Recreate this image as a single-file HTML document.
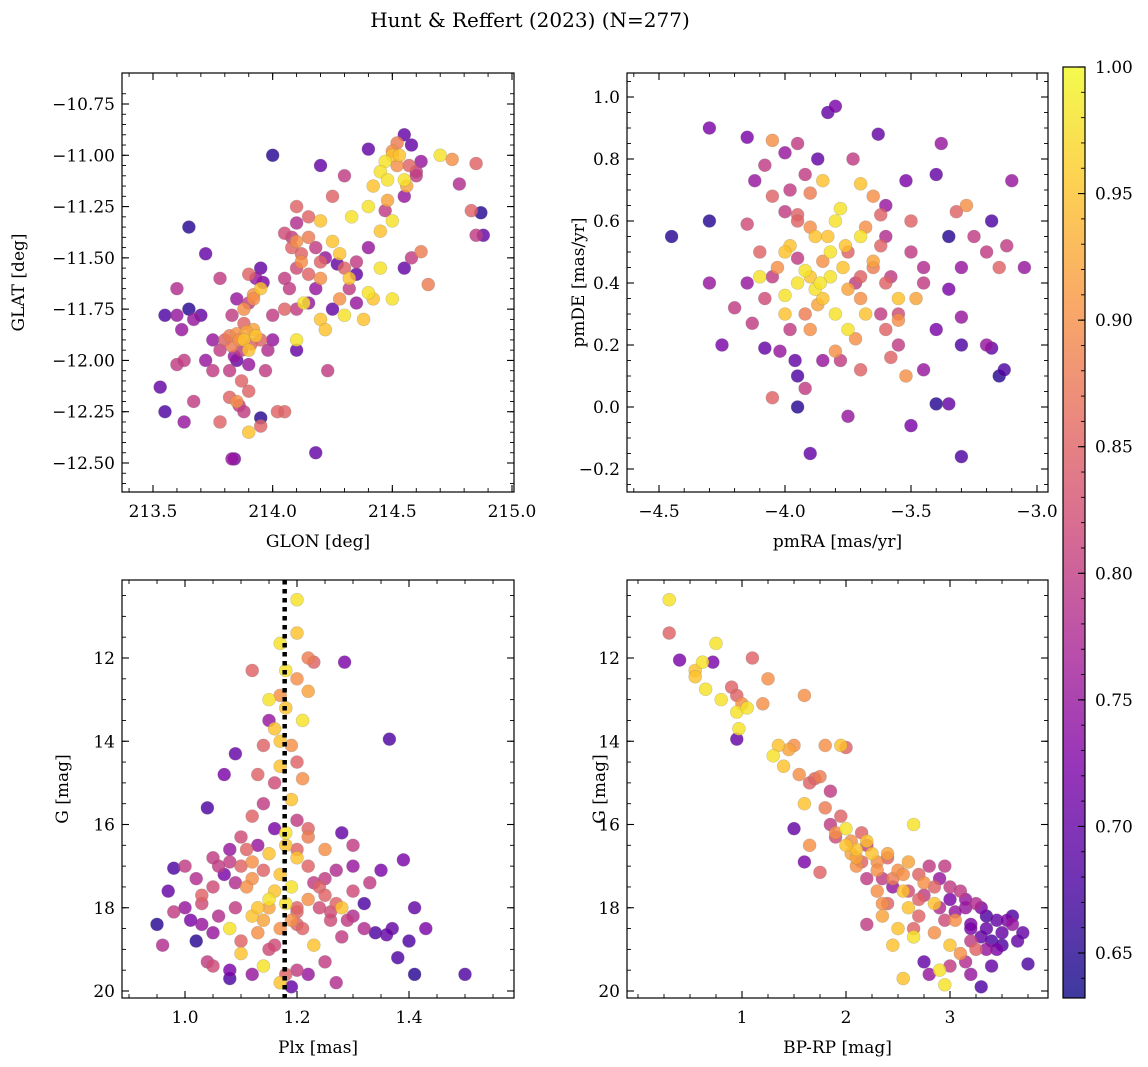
<!DOCTYPE html>
<html><head><meta charset="utf-8">
<style>
html,body{margin:0;padding:0;background:#fff;}
svg{display:block;font-family:"DejaVu Serif","Liberation Serif",serif;}
</style></head>
<body>
<svg id="fig" width="1148" height="1067" viewBox="0 0 1148 1067">
<defs>
<linearGradient id="plasma" x1="0" y1="1" x2="0" y2="0">
<stop offset="0" stop-color="#0d0887"/><stop offset="0.125" stop-color="#4c02a1"/>
<stop offset="0.25" stop-color="#7e03a8"/><stop offset="0.375" stop-color="#a92395"/>
<stop offset="0.5" stop-color="#cc4778"/><stop offset="0.625" stop-color="#e56b5d"/>
<stop offset="0.75" stop-color="#f89540"/><stop offset="0.875" stop-color="#fdc527"/>
<stop offset="1" stop-color="#f0f921"/>
</linearGradient>
</defs>
<text x="530" y="27" font-size="20" text-anchor="middle">Hunt &amp; Reffert (2023) (N=277)</text>
</svg>
<script>
// ---------- Panel 1: GLON / GLAT ----------
const glon=[214.55,214.58,214.5,214.47,214.52,214.6,214.62,214.7,214.75,214.85,214.4,214.45,214.55,214.3,214.25,214.2,214.78,214.83,214.87,214.85,214.88,214.55,214.48,214.4,214.33,214.5,214.45,214.4,214.42,214.47,
214.1,214.15,214.2,214.08,214.1,214.12,214.18,214.25,214.22,214.27,214.3,214.35,214.32,214.2,214.15,214.1,214.05,214.28,214.25,214.3,214.35,214.4,214.42,214.45,214.5,214.55,214.58,214.62,214.65,214.38,214.2,214.22,214.1,214.15,214.05,214.0,214.1,214.23,214.18,214.05,214.0,214.13,214.1,
213.95,213.93,213.9,213.95,213.92,213.9,213.85,213.83,213.88,213.92,213.85,213.8,213.83,213.88,213.9,213.95,213.98,213.85,213.9,213.82,213.87,213.85,213.82,213.88,213.9,213.83,213.84,213.95,213.95,214.02,213.78,213.72,213.75,213.7,213.65,213.67,213.72,213.65,213.6,213.55,213.6,213.62,213.6,213.63,213.67,213.63,213.55,213.53,213.78,213.75,213.78,213.97,214.0,
213.82,213.86,213.89,213.91,213.87,213.84,213.93,213.88,213.9,213.86,214.05,214.08,214.12,214.07,214.15,214.1,214.5,214.53,214.57,214.6,214.48,214.52,214.56,214.35,214.28,214.32,214.2,214.18,213.96,213.92];
const glat=[-10.9,-10.95,-11.0,-11.03,-11.05,-11.1,-11.03,-11.0,-11.02,-11.04,-10.97,-11.08,-11.12,-11.1,-11.2,-11.05,-11.14,-11.27,-11.28,-11.39,-11.39,-11.2,-11.22,-11.25,-11.3,-11.32,-11.37,-11.45,-11.15,-11.27,
-11.25,-11.3,-11.32,-11.4,-11.42,-11.48,-11.45,-11.42,-11.5,-11.53,-11.55,-11.52,-11.6,-11.6,-11.58,-11.55,-11.6,-11.7,-11.75,-11.78,-11.72,-11.67,-11.7,-11.55,-11.7,-11.55,-11.5,-11.47,-11.63,-11.8,-11.8,-11.85,-11.75,-11.72,-11.75,-11.78,-11.95,-12.05,-12.45,-12.25,-11.0,-11.72,-11.9,
-11.55,-11.6,-11.58,-11.65,-11.68,-11.72,-11.7,-11.78,-11.82,-11.85,-11.87,-11.9,-11.93,-11.9,-11.95,-11.9,-11.95,-12.0,-12.02,-12.05,-12.1,-12.2,-12.18,-12.25,-12.35,-12.48,-12.48,-12.28,-12.32,-12.25,-12.3,-12.0,-12.05,-11.78,-11.75,-11.8,-11.48,-11.35,-11.65,-11.78,-11.78,-11.85,-12.02,-12.0,-12.2,-12.3,-12.25,-12.13,-11.6,-11.9,-11.95,-12.05,-11.9,
-11.88,-11.9,-11.86,-11.92,-11.95,-11.98,-11.88,-11.75,-12.15,-12.22,-11.38,-11.45,-11.52,-11.65,-11.4,-11.33,-10.98,-11.0,-11.05,-11.08,-11.12,-10.94,-11.15,-11.58,-11.48,-11.65,-11.52,-11.65,-11.62,-11.7];
const prob1=[0.7,0.7,0.95,0.98,0.9,0.8,0.75,0.98,0.9,0.85,0.7,0.98,0.98,0.8,0.85,0.7,0.78,0.85,0.65,0.8,0.7,0.75,0.92,0.98,0.98,0.98,0.95,0.75,0.95,0.8,
0.85,0.85,0.95,0.8,0.9,0.85,0.8,0.95,0.75,0.7,0.85,0.8,0.95,0.9,0.85,0.82,0.8,0.9,0.7,0.98,0.75,0.98,0.95,0.98,0.98,0.7,0.8,0.88,0.88,0.95,0.95,0.95,0.8,0.75,0.85,0.8,0.7,0.8,0.7,0.85,0.65,0.98,0.98,
0.7,0.75,0.85,0.95,0.9,0.8,0.75,0.8,0.85,0.92,0.9,0.85,0.88,0.95,0.95,0.85,0.78,0.7,0.75,0.8,0.85,0.9,0.85,0.8,0.95,0.75,0.72,0.65,0.85,0.85,0.85,0.75,0.8,0.7,0.65,0.75,0.7,0.65,0.78,0.68,0.75,0.75,0.8,0.8,0.8,0.75,0.68,0.7,0.8,0.75,0.8,0.8,0.75,
0.88,0.9,0.92,0.85,0.8,0.75,0.95,0.9,0.85,0.8,0.82,0.85,0.9,0.8,0.88,0.78,0.9,0.95,0.85,0.8,0.98,0.88,0.92,0.7,0.95,0.8,0.85,0.75,0.72,0.9];

// ---------- Panel 2: pmRA / pmDE ----------
const pmra=[-4.45,-4.3,-4.3,-4.3,-4.25,-4.2,-4.15,-4.12,-4.15,-4.13,-4.1,-4.08,-4.05,-4.03,-4.0,-4.0,-3.98,-3.95,-3.95,-3.92,-3.9,-3.88,-3.87,-3.85,-3.83,-3.8,-3.78,-3.77,-3.75,-3.72,-3.7,-3.68,-3.65,-3.62,-3.6,-3.58,-3.55,-3.5,-3.45,-3.4,-3.38,-3.35,-3.32,-3.3,-3.28,-3.25,-3.2,-3.18,-3.15,-3.12,-3.1,-3.05,-3.2,-3.18,-3.13,-3.15,-3.3,-3.3,-3.35,-3.35,-3.4,-3.3,-3.45,-3.5,-3.52,-3.55,-3.6,-3.63,-3.65,-3.7,-3.75,-3.8,-3.85,-3.9,-3.92,-3.95,-3.95,-3.96,-3.98,-4.02,-4.05,-4.0,-3.95,-3.92,-3.87,-3.83,-3.8,-3.73,-3.7,-3.85,-3.9,-4.05,-4.05,-4.08,-3.6,-3.52,-3.48,-3.55,-3.58,-3.62,-3.75,-3.7,-3.9,-3.82,-3.95,-4.1,-4.0,
-3.85,-3.8,-3.9,-3.75,-3.7,-3.65,-3.82,-3.88,-3.95,-4.0,-3.6,-3.55,-3.72,-3.78,-3.92,-4.08,-4.15,-3.5,-3.45,-3.4,-3.68,-3.62,-3.98,-3.86,-3.76];
const pmde=[0.55,0.9,0.6,0.4,0.2,0.32,0.87,0.73,0.59,0.27,0.5,0.19,0.42,0.45,0.3,0.36,0.52,0.62,0.48,0.44,0.42,0.38,0.33,0.47,0.55,0.6,0.64,0.45,0.5,0.4,0.35,0.3,0.47,0.52,0.55,0.42,0.35,0.6,0.4,0.75,0.85,0.55,0.63,0.45,0.65,0.55,0.5,0.6,0.45,0.52,0.73,0.45,0.2,0.19,0.12,0.1,0.2,0.29,0.38,0.01,0.01,-0.16,0.12,-0.06,0.1,0.2,0.25,0.88,0.68,0.12,-0.03,0.18,0.15,-0.15,0.06,0.0,0.1,0.15,0.25,0.18,0.03,0.82,0.85,0.75,0.8,0.95,0.97,0.8,0.72,0.73,0.69,0.86,0.68,0.78,0.65,0.73,0.35,0.28,0.16,0.3,0.25,0.55,0.58,0.42,0.4,0.42,0.5,
0.35,0.3,0.25,0.38,0.42,0.45,0.5,0.55,0.6,0.63,0.4,0.3,0.22,0.15,0.3,0.35,0.4,0.5,0.45,0.25,0.58,0.62,0.7,0.4,0.52];
const prob2=[0.65,0.72,0.65,0.75,0.72,0.8,0.72,0.75,0.82,0.8,0.85,0.7,0.8,0.9,0.95,0.98,0.95,0.85,0.8,0.98,0.95,0.98,0.92,0.9,0.95,0.98,0.98,0.95,0.85,0.8,0.9,0.95,0.92,0.85,0.78,0.8,0.95,0.85,0.8,0.7,0.75,0.65,0.85,0.75,0.9,0.8,0.8,0.68,0.85,0.8,0.75,0.75,0.75,0.7,0.68,0.65,0.68,0.75,0.72,0.7,0.65,0.68,0.75,0.72,0.9,0.8,0.85,0.7,0.9,0.85,0.75,0.9,0.75,0.7,0.8,0.65,0.68,0.7,0.8,0.75,0.85,0.75,0.8,0.8,0.7,0.7,0.72,0.8,0.95,0.95,0.88,0.9,0.85,0.8,0.75,0.72,0.92,0.9,0.85,0.8,0.98,0.98,0.9,0.98,0.98,0.98,0.95,
0.95,0.98,0.9,0.92,0.85,0.88,0.98,0.95,0.85,0.8,0.85,0.82,0.9,0.8,0.88,0.82,0.75,0.8,0.78,0.72,0.9,0.85,0.8,0.98,0.95];

// ---------- Panel 3: Plx / G ----------
const plx=[1.2,1.2,1.17,1.22,1.23,1.285,1.12,1.18,1.2,1.22,1.17,1.15,1.18,1.21,1.15,1.16,1.17,1.14,1.19,1.365,1.2,1.17,1.21,1.13,1.09,1.07,1.16,1.19,1.14,1.04,1.12,1.2,1.16,1.18,1.22,1.28,1.3,1.1,1.13,1.15,1.2,1.25,1.08,1.05,1.0,0.98,0.97,1.02,1.03,1.05,1.07,1.1,1.12,1.17,1.19,1.22,1.25,1.27,1.3,1.33,1.35,1.39,1.32,1.3,1.27,1.24,1.2,1.18,1.15,1.12,1.09,1.06,1.03,1.0,0.98,1.01,0.95,0.96,1.02,1.05,1.08,1.1,1.13,1.16,1.2,1.23,1.26,1.28,1.32,1.34,1.37,1.36,1.38,1.4,1.41,1.43,1.41,1.5,1.25,1.27,1.2,1.19,1.17,1.14,1.12,1.1,1.08,1.05,1.04,1.08,1.18,1.22,1.15,1.2,1.22,1.28,
1.11,1.14,1.16,1.19,1.21,1.24,1.26,1.29,1.06,1.09,1.13,1.17,1.2,1.23,1.15,1.12,1.18,1.22,1.25,1.03,1.08,1.11,1.14,1.3];
const gmag3=[10.6,11.4,11.65,12.0,12.1,12.1,12.3,12.3,12.5,12.8,12.9,13.0,13.2,13.5,13.5,13.7,14.0,14.1,14.1,13.95,14.5,14.6,14.9,14.8,14.3,14.8,15.0,15.4,15.5,15.6,15.8,15.9,16.1,16.2,16.1,16.2,16.5,16.3,16.5,16.7,16.6,16.6,16.6,16.8,17.0,17.05,17.6,17.3,17.7,17.5,17.2,17.0,17.3,17.2,17.5,17.0,17.3,17.1,17.0,17.4,17.1,16.85,17.9,17.6,17.9,18.0,18.1,17.9,18.0,18.2,18.0,18.2,17.9,18.0,18.1,18.3,18.4,18.9,18.8,18.6,18.5,18.8,18.6,18.9,18.4,18.9,18.3,18.7,18.5,18.6,18.5,18.65,19.2,18.8,18.0,18.5,19.6,19.6,19.3,19.8,19.5,19.9,19.8,19.4,19.6,19.1,19.5,19.4,19.3,19.7,19.6,19.6,17.8,16.8,17.8,18.0,
17.5,17.1,17.6,18.3,18.5,17.5,18.1,18.3,17.0,17.4,18.0,18.5,18.0,17.4,19.0,16.9,16.5,16.3,17.7,18.4,16.9,16.6,18.3,18.2];
const prob3=[0.98,0.95,0.98,0.88,0.85,0.72,0.85,0.98,0.9,0.92,0.9,0.98,0.95,0.98,0.75,0.95,0.95,0.85,0.9,0.68,0.85,0.95,0.9,0.85,0.7,0.72,0.82,0.95,0.8,0.68,0.85,0.8,0.72,0.98,0.85,0.7,0.8,0.82,0.75,0.95,0.85,0.9,0.75,0.8,0.8,0.68,0.7,0.78,0.85,0.82,0.72,0.85,0.9,0.95,0.98,0.85,0.8,0.78,0.75,0.8,0.72,0.72,0.68,0.82,0.85,0.82,0.85,0.98,0.92,0.95,0.8,0.78,0.82,0.75,0.8,0.72,0.65,0.78,0.65,0.75,0.98,0.85,0.9,0.82,0.85,0.95,0.82,0.8,0.78,0.68,0.7,0.7,0.68,0.68,0.7,0.72,0.65,0.68,0.8,0.78,0.8,0.7,0.95,0.98,0.75,0.95,0.72,0.82,0.8,0.68,0.85,0.75,0.98,0.95,0.9,0.95,
0.9,0.85,0.95,0.9,0.85,0.85,0.82,0.8,0.8,0.78,0.95,0.9,0.85,0.8,0.82,0.9,0.95,0.88,0.85,0.75,0.8,0.85,0.92,0.78];
const plxRef=[1.178];

// ---------- Panel 4: BP-RP / G ----------
const bprp=[0.3,0.3,0.4,0.55,0.55,0.62,0.65,0.72,0.75,0.8,0.9,0.95,0.95,0.97,1.0,1.05,1.1,1.2,1.25,0.95,1.3,1.35,1.4,1.45,1.5,1.55,1.6,1.6,1.65,1.7,1.75,1.8,1.85,1.95,2.0,1.5,1.6,1.65,1.75,1.8,1.85,1.9,1.95,2.0,2.05,2.1,2.15,2.2,2.25,2.3,2.35,2.4,2.45,2.5,2.55,2.6,2.65,2.7,2.75,2.8,2.85,2.9,2.95,3.0,3.05,3.1,3.15,3.2,3.25,3.3,3.35,3.4,3.5,3.55,3.6,3.65,3.75,3.7,2.2,2.5,2.55,2.75,2.8,2.9,2.95,3.0,3.1,3.2,3.3,3.4,3.45,3.0,2.85,2.7,2.6,2.4,2.3,2.2,2.1,3.15,3.35,2.95,3.2,3.25,2.45,2.65,2.35,2.05,
2.15,2.3,2.45,2.6,2.75,2.9,3.05,3.2,3.35,3.5,2.2,2.4,2.55,2.7,2.85,3.0,3.15,3.3,3.45,3.6,2.0,1.9,2.1,2.35,2.65];
const gmag4=[10.6,11.4,12.05,12.3,12.45,12.1,12.75,12.1,11.65,13.0,12.7,12.9,13.3,13.7,13.1,13.2,12.0,13.1,12.5,13.95,14.35,14.1,14.6,14.2,14.1,14.8,12.9,15.5,15.0,14.9,14.85,14.1,15.2,14.1,14.15,16.1,16.9,16.5,17.15,15.6,16.0,16.3,15.8,16.1,16.4,16.6,16.2,16.5,16.7,16.9,17.3,16.8,17.5,17.1,17.6,16.9,16.0,17.8,17.4,17.0,17.9,17.3,17.0,17.8,18.3,17.6,18.0,18.4,17.9,18.7,18.2,18.8,18.6,18.3,18.4,18.8,19.35,18.6,18.4,18.5,19.7,19.3,19.6,19.5,19.85,19.4,19.1,19.6,19.9,19.4,19.0,18.9,18.6,18.2,18.0,17.9,17.6,17.3,17.0,19.3,19.0,18.3,18.8,19.0,18.9,18.7,18.2,16.7,
16.9,17.1,17.3,17.6,17.7,18.0,18.1,18.5,18.5,18.9,16.4,16.7,17.2,17.2,17.5,17.5,17.8,18.0,18.3,18.2,16.5,16.2,16.8,17.9,18.5];
const prob4=[0.98,0.85,0.72,0.95,0.95,0.98,0.98,0.72,0.98,0.98,0.85,0.85,0.98,0.98,0.9,0.98,0.85,0.9,0.9,0.7,0.98,0.95,0.95,0.92,0.9,0.9,0.9,0.95,0.85,0.85,0.88,0.9,0.8,0.95,0.85,0.7,0.72,0.9,0.85,0.88,0.8,0.82,0.85,0.98,0.9,0.95,0.85,0.8,0.95,0.9,0.8,0.85,0.75,0.9,0.95,0.92,0.98,0.85,0.9,0.8,0.95,0.75,0.8,0.72,0.9,0.8,0.75,0.72,0.78,0.7,0.68,0.68,0.7,0.72,0.75,0.7,0.68,0.7,0.8,0.95,0.95,0.7,0.75,0.98,0.98,0.8,0.9,0.75,0.68,0.7,0.72,0.95,0.9,0.85,0.95,0.85,0.9,0.8,0.9,0.78,0.75,0.82,0.8,0.85,0.95,0.98,0.92,0.92,
0.85,0.9,0.88,0.82,0.8,0.78,0.75,0.72,0.7,0.68,0.95,0.92,0.9,0.85,0.85,0.8,0.75,0.72,0.7,0.68,0.95,0.9,0.92,0.9,0.85];

// ---------- tick labels ----------
const xTicks1=[213.5,214.0,214.5,215.0];
const yTicks1=[-10.75,-11.0,-11.25,-11.5,-11.75,-12.0,-12.25,-12.5];
const xTicks2=[-4.5,-4.0,-3.5,-3.0];
const yTicks2=[-0.2,0.0,0.2,0.4,0.6,0.8,1.0];
const xTicks3=[1.0,1.2,1.4];
const yTicksG=[12,14,16,18,20];
const xTicks4=[1,2,3];
const cbTicks=[0.65,0.70,0.75,0.80,0.85,0.90,0.95,1.00];

const NS='http://www.w3.org/2000/svg';
const svg=document.getElementById('fig');
function mk(tag,attrs,parent){const e=document.createElementNS(NS,tag);for(const k in attrs)e.setAttribute(k,attrs[k]);(parent||svg).appendChild(e);return e;}

const stops=[[0,[13,8,135]],[0.125,[76,2,161]],[0.25,[126,3,168]],[0.375,[169,35,149]],[0.5,[204,71,120]],[0.625,[229,107,93]],[0.75,[248,149,64]],[0.875,[253,197,39]],[1,[240,249,33]]];
const PMIN=0.632,PMAX=1.0;
function cmap(p){let t=(p-PMIN)/(PMAX-PMIN);t=Math.max(0,Math.min(1,t));
 for(let i=1;i<stops.length;i++){if(t<=stops[i][0]){const a=stops[i-1],b=stops[i];const f=(t-a[0])/(b[0]-a[0]);
 const c=a[1].map((v,j)=>Math.round(v+(b[1][j]-v)*f));return `rgb(${c[0]},${c[1]},${c[2]})`;}}return 'rgb(240,249,33)';}

function lin(d0,d1,r0,r1){return v=>r0+(v-d0)/(d1-d0)*(r1-r0);}
const FS=17;
function panel(o){
 const g=mk('g',{});
 
 
 const sx=lin(o.xd[0],o.xd[1],o.xr[0],o.xr[1]);
 const sy=lin(o.yd[0],o.yd[1],o.yr[0],o.yr[1]);
 const L=o.box[0],T=o.box[1],R=o.box[2],B=o.box[3];
 const cp='cp'+o.name;
 const defs=mk('defs',{},g);const c=mk('clipPath',{id:cp},defs);mk('rect',{x:L,y:T,width:R-L,height:B-T},c);
 const pts=mk('g',{'clip-path':`url(#${cp})`},g);
 
 
 const idx=o.xs.map((_,i)=>i).sort((a,b)=>o.ps[a]-o.ps[b]);
 for(const i of idx){
  const ci=mk('circle',{cx:sx(o.xs[i]),cy:sy(o.ys[i]),r:6.5,fill:cmap(o.ps[i]),'fill-opacity':0.82,stroke:'#777','stroke-opacity':0.35,'stroke-width':0.6},pts);
  
  
 }
 if(o.extra)o.extra(g,sx,sy,cp);
 mk('rect',{x:L,y:T,width:R-L,height:B-T,fill:'none',stroke:'#000','stroke-width':1.2},g);
 for(let v=o.xmin[0];v<=o.xmin[1]+1e-9;v+=o.xmin[2]){const x=sx(v);if(x<L||x>R)continue;
  mk('line',{x1:x,y1:B,x2:x,y2:B-4,stroke:'#000','stroke-width':0.9},g);mk('line',{x1:x,y1:T,x2:x,y2:T+4,stroke:'#000','stroke-width':0.9},g);}
 for(let v=o.ymin[0];v<=o.ymin[1]+1e-9;v+=o.ymin[2]){const y=sy(v);if(y<T||y>B)continue;
  mk('line',{x1:L,y1:y,x2:L+4,y2:y,stroke:'#000','stroke-width':0.9},g);mk('line',{x1:R,y1:y,x2:R-4,y2:y,stroke:'#000','stroke-width':0.9},g);}
 for(const v of o.xt){const x=sx(v);
  mk('line',{x1:x,y1:B,x2:x,y2:B-7,stroke:'#000','stroke-width':1.1},g);mk('line',{x1:x,y1:T,x2:x,y2:T+7,stroke:'#000','stroke-width':1.1},g);
  const t=mk('text',{x:x,y:B+25,'font-size':FS,'text-anchor':'middle'},g);t.textContent=o.xf(v);
  }
 for(const v of o.yt){const y=sy(v);
  mk('line',{x1:L,y1:y,x2:L+7,y2:y,stroke:'#000','stroke-width':1.1},g);mk('line',{x1:R,y1:y,x2:R-7,y2:y,stroke:'#000','stroke-width':1.1},g);
  const t=mk('text',{x:L-7,y:y+6,'font-size':FS,'text-anchor':'end'},g);t.textContent=o.yf(v);
  }
 const xl=mk('text',{x:(L+R)/2,y:B+55,'font-size':FS,'text-anchor':'middle'},g);xl.textContent=o.xlab;
 
 const yl=mk('text',{x:0,y:0,'font-size':FS,'text-anchor':'middle',transform:`translate(${o.ylx},${(T+B)/2}) rotate(-90)`},g);yl.textContent=o.ylab;
 
}
const minus=s=>s.replace('-','\u2212');
panel({name:'glon-glat-panel',box:[122,73,514,492],xs:glon,ys:glat,ps:prob1,xd:[213.5,215],xr:[153,512],yd:[-10.75,-12.5],yr:[104,463],
 xt:xTicks1,yt:yTicks1,xf:v=>v.toFixed(1),yf:v=>minus(v.toFixed(2)),xmin:[213.3,215.1,0.1],ymin:[-12.65,-10.7,0.05],xlab:'GLON [deg]',ylab:'GLAT [deg]',ylx:24});
panel({name:'pm-panel',box:[627,73,1048,492],xs:pmra,ys:pmde,ps:prob2,xd:[-4.5,-3.0],xr:[659,1037],yd:[1.0,-0.2],yr:[97,469],
 xt:xTicks2,yt:yTicks2,xf:v=>minus(v.toFixed(1)),yf:v=>minus(v.toFixed(1)),xmin:[-4.6,-2.9,0.1],ymin:[-0.3,1.1,0.05],xlab:'pmRA [mas/yr]',ylab:'pmDE [mas/yr]',ylx:584});
panel({name:'plx-g-panel',box:[122,580,514,998],xs:plx,ys:gmag3,ps:prob3,xd:[1.0,1.4],xr:[185,409],yd:[12,20],yr:[658,991],
 xt:xTicks3,yt:yTicksG,xf:v=>v.toFixed(1),yf:v=>String(v),xmin:[0.9,1.6,0.05],ymin:[10,20.5,0.5],xlab:'Plx [mas]',ylab:'G [mag]',ylx:68,
 extra:(g,sx,sy,cp)=>{const x=sx(plxRef[0]);const l=mk('line',{x1:x,y1:580,x2:x,y2:998,stroke:'#000','stroke-width':4.5,'stroke-dasharray':'4.5,4.5'},g);
  }});
panel({name:'cmd-panel',box:[627,580,1048,998],xs:bprp,ys:gmag4,ps:prob4,xd:[1,3],xr:[742,950],yd:[12,20],yr:[658,991],
 xt:xTicks4,yt:yTicksG,xf:v=>String(v),yf:v=>String(v),xmin:[0,4,0.25],ymin:[10,20.5,0.5],xlab:'BP-RP [mag]',ylab:'G [mag]',ylx:605});

(function(){
 const g=mk('g',{});
 
 
 const L=1063,R=1085,T=67,B=998;
 const sy=lin(1.0,0.65,67,953);
 mk('rect',{x:L,y:T,width:R-L,height:B-T,fill:'url(#plasma)','fill-opacity':0.8},g);
 mk('rect',{x:L,y:T,width:R-L,height:B-T,fill:'none',stroke:'#000','stroke-width':1.2},g);
 for(let v=0.64;v<=1.0001;v+=0.01){const y=sy(v);mk('line',{x1:R,y1:y,x2:R-4,y2:y,stroke:'#000','stroke-width':0.9},g);}
 for(const v of cbTicks){const y=sy(v);
  mk('line',{x1:R,y1:y,x2:R-7,y2:y,stroke:'#000','stroke-width':1.1},g);
  const t=mk('text',{x:R+10,y:y+6,'font-size':FS},g);t.textContent=v.toFixed(2);
  }
})();
</script>
</body></html>
